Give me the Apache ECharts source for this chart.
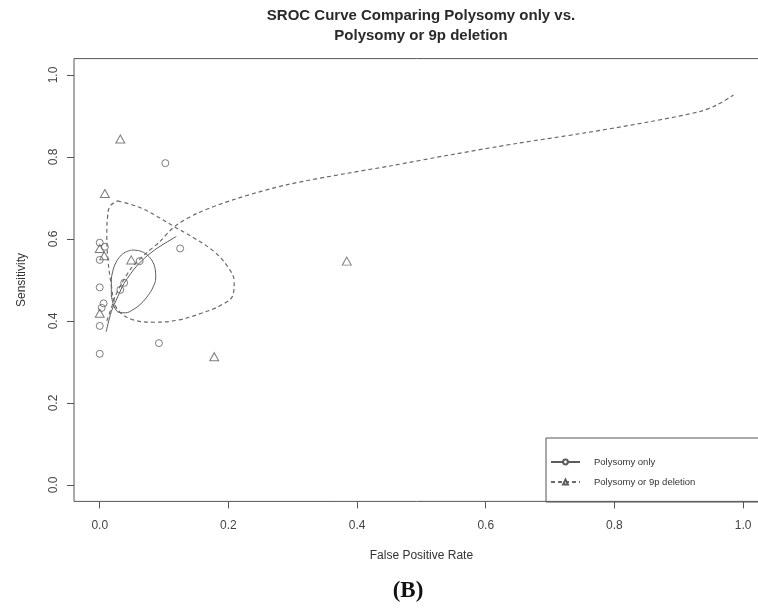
<!DOCTYPE html>
<html>
<head>
<meta charset="utf-8">
<script src="https://cdn.jsdelivr.net/npm/echarts@6/dist/echarts.min.js"></script>
<style>
  html, body { margin: 0; padding: 0; background: #fff; }
  #chart { width: 758px; height: 613px; }
</style>
</head>
<body>
<div id="chart"></div>
<script>
// study points (false positive rate, sensitivity)
var polyOnlyFpr  = [0.000, 0.008, 0.000, 0.125, 0.062, 0.038, 0.032, 0.000, 0.006, 0.003, 0.000, 0.092, 0.000, 0.102];
var polyOnlySens = [0.591, 0.581, 0.549, 0.577, 0.546, 0.493, 0.476, 0.482, 0.443, 0.432, 0.388, 0.346, 0.320, 0.785];
var poly9pFpr    = [0.032, 0.008, 0.000, 0.007, 0.049, 0.000, 0.178, 0.384];
var poly9pSens   = [0.844, 0.711, 0.577, 0.559, 0.549, 0.419, 0.313, 0.546];

// SROC curves
var srocPolyFpr   = [0.010, 0.018, 0.028, 0.038, 0.059, 0.085, 0.119];
var srocPolySens  = [0.374, 0.423, 0.459, 0.492, 0.537, 0.573, 0.606];
var srocPoly9pFpr  = [0.011, 0.018, 0.024, 0.033, 0.049, 0.072, 0.093, 0.116, 0.152, 0.212, 0.290, 0.384, 0.451, 0.544, 0.648, 0.751, 0.855, 0.933, 0.958, 0.985];
var srocPoly9pSens = [0.400, 0.431, 0.460, 0.488, 0.529, 0.565, 0.593, 0.630, 0.663, 0.698, 0.732, 0.760, 0.778, 0.805, 0.833, 0.858, 0.886, 0.911, 0.926, 0.951];

// confidence regions
var ellPolyFpr  = [0.050, 0.062, 0.073, 0.081, 0.086, 0.087, 0.083, 0.075, 0.064, 0.052, 0.040, 0.030, 0.024, 0.020, 0.018, 0.018, 0.020, 0.025, 0.032, 0.040, 0.050];
var ellPolySens = [0.573, 0.571, 0.562, 0.548, 0.528, 0.505, 0.483, 0.462, 0.442, 0.428, 0.420, 0.421, 0.430, 0.447, 0.470, 0.495, 0.520, 0.542, 0.558, 0.568, 0.573];
var ell9pFpr  = [0.028, 0.059, 0.085, 0.116, 0.147, 0.178, 0.199, 0.209, 0.207, 0.189, 0.158, 0.121, 0.085, 0.054, 0.033, 0.023, 0.018, 0.013, 0.011, 0.012, 0.016, 0.028];
var ell9pSens = [0.693, 0.679, 0.659, 0.630, 0.602, 0.569, 0.532, 0.496, 0.463, 0.439, 0.419, 0.402, 0.397, 0.402, 0.419, 0.443, 0.488, 0.545, 0.610, 0.650, 0.680, 0.693];

var xTicks = [0, 0.2, 0.4, 0.6, 0.8, 1.0];
var yTicks = [0, 0.2, 0.4, 0.6, 0.8, 1.0];

function pairs(xs, ys) {
  return xs.map(function (x, i) { return [x, ys[i]]; });
}

var axisColor = '#555';
var markColor = '#5c5c5c';
var font = 'Liberation Sans, Arial, sans-serif';

var chart = echarts.init(document.getElementById('chart'));
chart.setOption({
  animation: false,
  backgroundColor: '#fff',
  title: [{
    text: 'SROC Curve Comparing Polysomy only vs.\nPolysomy or 9p deletion',
    left: 421,
    top: 6,
    padding: 0,
    textAlign: 'center',
    textStyle: { fontFamily: font, fontSize: 15, fontWeight: 'bold', color: '#2a2a2a', lineHeight: 20 }
  }, {
    text: '(B)',
    left: 408,
    top: 580,
    padding: 0,
    textAlign: 'center',
    textStyle: { fontFamily: 'Liberation Serif, Times New Roman, serif', fontSize: 23, fontWeight: 'bold', color: '#111' }
  }],
  grid: {
    left: 74, top: 58.6, width: 694.8, height: 442.8,
    outerBoundsMode: 'none', containLabel: false,
    show: true, borderColor: axisColor, borderWidth: 1, backgroundColor: 'transparent'
  },
  legend: {
    orient: 'vertical',
    left: 546, top: 438,
    padding: [19, 80, 15, 4],
    itemGap: 10,
    itemWidth: 29, itemHeight: 6,
    borderColor: axisColor, borderWidth: 1,
    textStyle: { fontFamily: font, fontSize: 9.5, color: '#333', padding: [0, 0, 0, 9] },
    data: ['Polysomy only', 'Polysomy or 9p deletion']
  },
  xAxis: {
    type: 'value', min: -0.04, max: 1.04,
    name: 'False Positive Rate', nameLocation: 'middle', nameGap: 48,
    nameTextStyle: { fontFamily: font, fontSize: 12, color: '#333' },
    axisLine: { show: false, onZero: false },
    splitLine: { show: false },
    axisTick: { show: true, length: 7, customValues: xTicks, lineStyle: { color: axisColor } },
    axisLabel: { customValues: xTicks, margin: 18, fontFamily: font, fontSize: 12, color: '#444',
      formatter: function (v) { return v.toFixed(1); } }
  },
  yAxis: {
    type: 'value', min: -0.04, max: 1.04,
    name: 'Sensitivity', nameLocation: 'middle', nameGap: 46,
    nameTextStyle: { fontFamily: font, fontSize: 12, color: '#333' },
    axisLine: { show: false, onZero: false },
    splitLine: { show: false },
    axisTick: { show: true, length: 7, customValues: yTicks, lineStyle: { color: axisColor } },
    axisLabel: { customValues: yTicks, rotate: 90, margin: 14, fontFamily: font, fontSize: 12, color: '#444',
      formatter: function (v) { return v.toFixed(1); } }
  },
  series: [{
    name: 'Polysomy only', type: 'line',
    data: pairs(srocPolyFpr, srocPolySens),
    symbol: 'emptyCircle', showSymbol: false, smooth: 0.3,
    lineStyle: { color: markColor, width: 1 }, itemStyle: { color: markColor }
  }, {
    name: 'Polysomy or 9p deletion', type: 'line',
    data: pairs(srocPoly9pFpr, srocPoly9pSens),
    symbol: 'emptyTriangle', showSymbol: false, smooth: 0.3,
    lineStyle: { color: '#6a6a6a', width: 1.2, type: [4, 3] }, itemStyle: { color: markColor }
  }, {
    name: 'Polysomy only', type: 'line',
    data: pairs(ellPolyFpr, ellPolySens),
    showSymbol: false, smooth: 0.4,
    lineStyle: { color: markColor, width: 1 }
  }, {
    name: 'Polysomy or 9p deletion', type: 'line',
    data: pairs(ell9pFpr, ell9pSens),
    showSymbol: false, smooth: 0.4,
    lineStyle: { color: '#6a6a6a', width: 1.2, type: [4, 3] }
  }, {
    name: 'Polysomy only', type: 'scatter',
    data: pairs(polyOnlyFpr, polyOnlySens),
    symbol: 'circle', symbolSize: 7,
    itemStyle: { color: 'transparent', borderColor: markColor, borderWidth: 1 }
  }, {
    name: 'Polysomy or 9p deletion', type: 'scatter',
    data: pairs(poly9pFpr, poly9pSens),
    symbol: 'triangle', symbolSize: [9, 8],
    itemStyle: { color: 'transparent', borderColor: markColor, borderWidth: 1 }
  }]
});
</script>
</body>
</html>
